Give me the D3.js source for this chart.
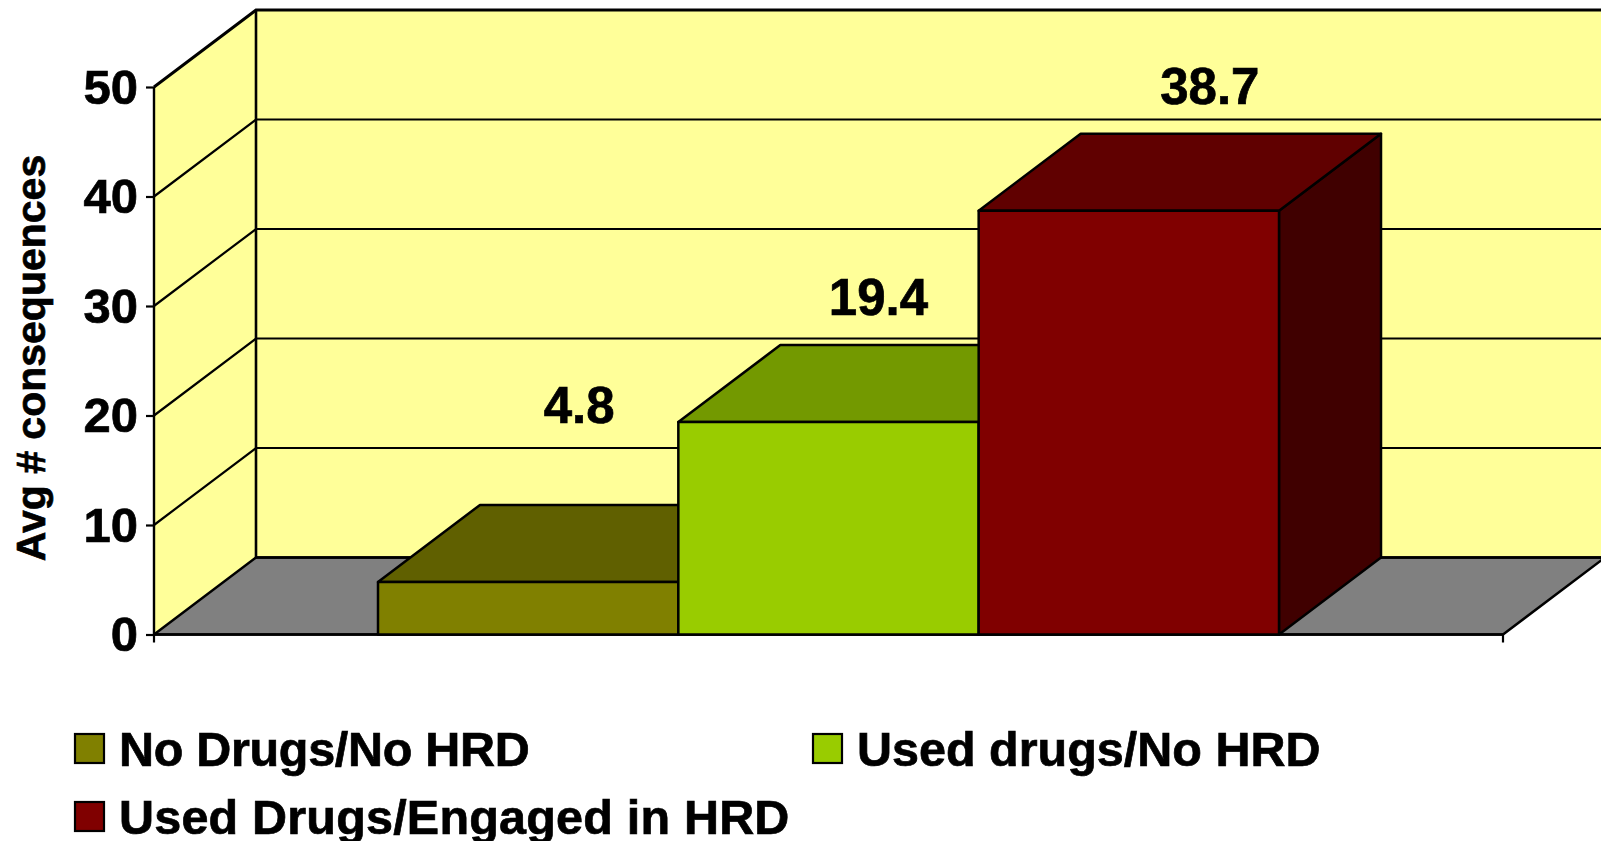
<!DOCTYPE html>
<html><head><meta charset="utf-8">
<script src="https://cdn.jsdelivr.net/npm/d3@7"></script>
<style>html,body{margin:0;padding:0;background:#fff}svg{display:block}text{font-family:"Liberation Sans",Arial,sans-serif;font-weight:bold;fill:#000;stroke:#000;stroke-width:.7px}</style>
</head><body><svg id="c" width="1601" height="841"></svg>
<script>
const categories = ["No Drugs/No HRD","Used drugs/No HRD","Used Drugs/Engaged in HRD"];
const values = [4.8,19.4,38.7];
const frontColors = ["#808000","#99CC00","#800000"];
const topColors = ["#606000","#739900","#600000"];
const sideColors = ["#404000","#4d6600","#400000"];
const yTicks = [0,10,20,30,40,50];
const axisTitle = "Avg # consequences";
const labelShift = [51,50,81];
const labelRise = [176,124,124];
const legendSpacing = [-0.3,0,0.2];

const svg = d3.select("#c");
const W = {left:154,right:1503,bottom:634.5,top:87,dx:102,dy:-77};
const y = d3.scaleLinear().domain([0,50]).range([W.bottom,W.top]);
const x = d3.scaleBand().domain(categories).range([378,1279]).padding(0);
const line = d3.line();
function poly(pts,fill,sw){
  return svg.append("path").attr("d",line(pts)+"Z").attr("fill",fill)
    .attr("stroke","#000").attr("stroke-width",sw||2.5).attr("stroke-linejoin","round");
}
const L=W.left,R=W.right,dx=W.dx,dy=W.dy,y0=y(0),yT=y(50);
svg.append("path").attr("d",line([[L+dx,yT+dy],[R+dx,yT+dy],[R+dx,y0+dy],[L+dx,y0+dy]])+"Z").attr("fill","#FFFF99");
svg.append("path").attr("d",line([[L,yT],[L+dx,yT+dy],[L+dx,y0+dy],[L,y0]])+"Z").attr("fill","#FFFF99");
poly([[L,y0],[L+dx,y0+dy],[R+dx,y0+dy],[R,y0]],"#808080");
svg.append("g").selectAll("path").data(yTicks.slice(1)).join("path")
  .attr("d",t=>line([[L,y(t)],[L+dx,y(t)+dy],[R+dx,y(t)+dy]]))
  .attr("fill","none").attr("stroke","#000").attr("stroke-width",t=>t===50?3:2.2);
svg.append("path").attr("d",line([[L+dx,yT+dy],[L+dx,y0+dy],[R+dx,y0+dy]])).attr("fill","none").attr("stroke","#000").attr("stroke-width",2.6);
svg.append("path").attr("d",line([[L,yT],[L,y0],[R,y0]])).attr("fill","none").attr("stroke","#000").attr("stroke-width",2.4);
categories.forEach((c,i)=>{
  const a=x(c),b=a+x.bandwidth(),t=y(values[i]);
  poly([[b,t],[b+dx,t+dy],[b+dx,y0+dy],[b,y0]],sideColors[i]);
  poly([[a,t],[a+dx,t+dy],[b+dx,t+dy],[b,t]],topColors[i]);
});
categories.forEach((c,i)=>{
  const a=x(c),b=a+x.bandwidth(),t=y(values[i]);
  poly([[a,t],[b,t],[b,y0],[a,y0]],frontColors[i]);
});
const yAxis = d3.axisLeft(y).tickValues(yTicks).tickSize(8).tickPadding(8);
const gy = svg.append("g").attr("transform",`translate(${L},0)`).call(yAxis);
gy.select(".domain").remove();
gy.selectAll("line").attr("stroke","#000").attr("stroke-width",2.2);
gy.selectAll("text").attr("font-size",49).style("font-weight","bold").style("font-family",'"Liberation Sans"').attr("fill","#000").attr("dy","0.33em");
svg.append("g").selectAll("line").data([L,R]).join("line")
  .attr("x1",d=>d).attr("x2",d=>d).attr("y1",y0).attr("y2",y0+8).attr("stroke","#000").attr("stroke-width",2.2);
svg.append("text").attr("transform","translate(45,358) rotate(-90)").attr("text-anchor","middle").attr("font-size",41).text(axisTitle);
svg.append("g").selectAll("text").data(categories).join("text")
  .attr("x",(c,i)=>x(c)+x.bandwidth()/2+labelShift[i])
  .attr("y",(c,i)=>y(values[i])-labelRise[i]+17)
  .attr("text-anchor","middle").attr("font-size",51).text((c,i)=>values[i].toFixed(1));
const legendX=[75,813,75], legendY=[734,734,802];
categories.forEach((c,i)=>{
  svg.append("rect").attr("x",legendX[i]).attr("y",legendY[i]).attr("width",29).attr("height",29)
    .attr("fill",frontColors[i]).attr("stroke","#000").attr("stroke-width",2.2);
  svg.append("text").attr("x",legendX[i]+44).attr("y",legendY[i]+32).attr("font-size",48.5)
    .attr("letter-spacing",legendSpacing[i]).text(c);
});
</script></body></html>
